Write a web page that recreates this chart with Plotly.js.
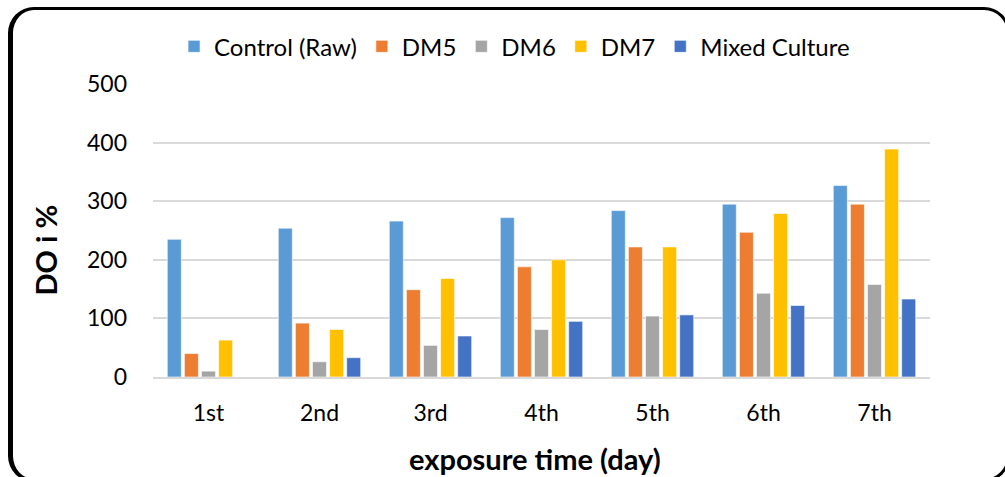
<!DOCTYPE html>
<html>
<head>
<meta charset="utf-8">
<script src="https://cdn.plot.ly/plotly-3.0.1.min.js"></script>
<style>
  html, body { margin: 0; padding: 0; background: #fff; overflow: hidden; }
  #wrap { position: relative; width: 1005px; height: 477px; overflow: hidden; }
  #chart { position: absolute; left: 0; top: 0; width: 1005px; height: 477px; }
  #frame { position: absolute; left: 8px; top: 7px; width: 1002px; height: 475px;
           border: 3px solid #000; border-left-width: 5px; border-radius: 26px;
           pointer-events: none; box-sizing: border-box; }
</style>
</head>
<body>
<div id="wrap">
  <div id="chart"></div>
  <div id="frame"></div>
</div>
<script>
const days = ["1st", "2nd", "3rd", "4th", "5th", "6th", "7th"];
const controlRaw = [235, 254, 266, 272, 284, 295, 327];
const dm5 = [40, 92, 149, 188, 222, 247, 295];
const dm6 = [10, 26, 54, 81, 104, 143, 158];
const dm7 = [63, 81, 168, 200, 222, 279, 389];
const mixedCulture = [0, 33, 70, 95, 106, 122, 133];

const seriesNames = ["Control (Raw)", "DM5", "DM6", "DM7", "Mixed Culture"];
const seriesValues = [controlRaw, dm5, dm6, dm7, mixedCulture];
const seriesColors = ["#5B9BD5", "#ED7D31", "#A5A5A5", "#FFC000", "#4472C4"];

const xTitle = "exposure time (day)";
const yTitle = "DO i %";

const font = "Lato, 'Open Sans', sans-serif";

const traces = seriesNames.map((name, i) => ({
  type: "bar",
  name: name,
  x: days,
  y: seriesValues[i],
  marker: { color: seriesColors[i], line: { color: "rgba(255,255,255,0.6)", width: 1 } },
  hoverinfo: "x+y+name"
}));

const layout = {
  width: 1005,
  height: 477,
  paper_bgcolor: "#ffffff",
  plot_bgcolor: "#ffffff",
  margin: { l: 153, r: 75, t: 84, b: 100 },
  barmode: "group",
  bargap: 0.23,
  bargroupgap: 0.18,
  font: { family: font, color: "#000", size: 23 },
  showlegend: true,
  legend: {
    orientation: "h",
    x: 0.512, xanchor: "center", xref: "container",
    y: 0.902, yref: "container", yanchor: "middle",
    font: { family: font, size: 24, color: "#000" },
    itemwidth: 30,
    traceorder: "normal"
  },
  xaxis: {
    type: "category",
    tickfont: { family: font, size: 23, color: "#000" },
    showgrid: false,
    showline: true,
    linecolor: "#D9D9D9",
    linewidth: 2,
    ticks: "",
    ticklabelstandoff: 14
  },
  yaxis: {
    range: [0, 500],
    tickvals: [0, 100, 200, 300, 400, 500],
    tickfont: { family: font, size: 23, color: "#000" },
    showgrid: true,
    gridcolor: "#D9D9D9",
    gridwidth: 2,
    zeroline: false,
    showline: false,
    ticks: "",
    ticklabelstandoff: 25
  },
  annotations: [
    {
      text: xTitle, xref: "paper", yref: "paper", x: 0.4916, y: -0.2765,
      xanchor: "center", yanchor: "middle", showarrow: false,
      font: { family: font, size: 29, color: "#000", weight: "bold" }
    },
    {
      text: yTitle, xref: "paper", yref: "paper", x: -0.1384, y: 0.4334,
      xanchor: "center", yanchor: "middle", showarrow: false, textangle: -90,
      font: { family: font, size: 29, color: "#000", weight: "bold" }
    }
  ]
};

Plotly.newPlot("chart", traces, layout, { displayModeBar: false, staticPlot: true });
</script>
</body>
</html>
